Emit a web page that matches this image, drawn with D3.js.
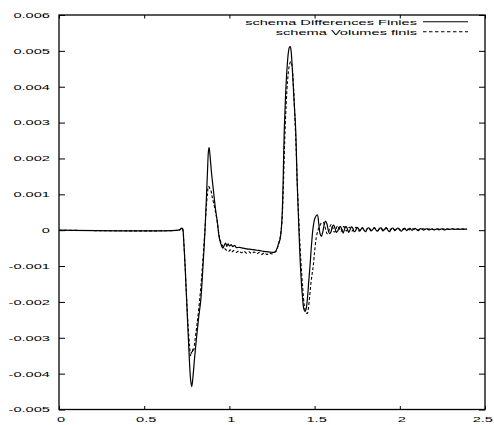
<!DOCTYPE html>
<html>
<head>
<meta charset="utf-8">
<script src="https://cdn.jsdelivr.net/npm/d3@7"></script>
<style>
  html, body { margin: 0; padding: 0; background: #fff; }
  svg { display: block; }
  text { font-family: "Liberation Sans", Arial, Helvetica, sans-serif; fill: #000; }
</style>
</head>
<body>
<svg id="chart" width="494" height="425"></svg>
<script>
// ---- Data ----
const xTicks = [0, 0.5, 1, 1.5, 2, 2.5];
const xTickLabels = ["0", "0.5", "1", "1.5", "2", "2.5"];
const yTicks = [-0.005, -0.004, -0.003, -0.002, -0.001, 0, 0.001, 0.002, 0.003, 0.004, 0.005, 0.006];
const yTickLabels = ["-0.005", "-0.004", "-0.003", "-0.002", "-0.001", "0", "0.001", "0.002", "0.003", "0.004", "0.005", "0.006"];
const seriesNames = ["schema Differences Finies", "schema Volumes finis"];

// Series 1: schema Differences Finies (solid)
const dfX = [0, 0.70, 0.712, 0.72, 0.726, 0.732, 0.74, 0.749, 0.758, 0.766, 0.773, 0.779, 0.786, 0.795, 0.805, 0.818, 0.832, 0.845, 0.857, 0.865, 0.872, 0.877, 0.881, 0.886, 0.895, 0.906, 0.918, 0.93, 0.94, 0.948, 0.955, 0.962, 0.970, 0.978, 0.985, 0.992, 1.0, 1.01, 1.02, 1.03, 1.04, 1.06, 1.08, 1.10, 1.12, 1.14, 1.16, 1.18, 1.20, 1.22, 1.24, 1.258, 1.27, 1.28, 1.29, 1.297, 1.304, 1.31, 1.316, 1.322, 1.33, 1.338, 1.346, 1.352, 1.357, 1.362, 1.368, 1.375, 1.382, 1.389, 1.398, 1.408, 1.418, 1.428, 1.437, 1.444, 1.45, 1.458, 1.466, 1.473, 1.482, 1.492, 1.503, 1.516, 1.524, 1.532, 1.54, 1.548, 1.556, 1.564, 1.572, 1.58, 1.588, 1.596, 1.604, 1.612, 1.62, 1.628, 1.636, 1.644, 1.652, 1.660, 1.668, 1.676, 1.684, 1.692, 1.700, 1.708, 1.716, 1.724, 1.732, 1.740, 1.748, 1.756, 1.764, 1.772, 1.780, 1.790, 1.800, 1.810, 1.820, 1.830, 1.840, 1.850, 1.860, 1.870, 1.880, 1.890, 1.900, 1.910, 1.920, 1.930, 1.940, 1.950, 1.960, 1.970, 1.980, 1.990, 2.000, 2.010, 2.020, 2.030, 2.040, 2.050, 2.060, 2.070, 2.080, 2.090, 2.100, 2.110, 2.120, 2.130, 2.140, 2.150, 2.160, 2.170, 2.180, 2.190, 2.200, 2.210, 2.220, 2.230, 2.240, 2.250, 2.260, 2.270, 2.280, 2.290, 2.300, 2.310, 2.320, 2.330, 2.340, 2.350, 2.360, 2.370, 2.380, 2.395];
const dfY = [0, 0, 0.00002, 0.00006, 0.00003, -0.0003, -0.0010, -0.00195, -0.0029, -0.0037, -0.0042, -0.00436, -0.0041, -0.0036, -0.0031, -0.0025, -0.00195, -0.0010, 0, 0.0009, 0.0017, 0.0022, 0.0023, 0.0021, 0.0016, 0.00112, 0.0006, 0.0002, -0.0002, -0.00035, -0.00045, -0.0005, -0.00042, -0.00036, -0.00045, -0.00038, -0.00044, -0.0004, -0.00046, -0.00042, -0.00048, -0.00048, -0.0005, -0.00052, -0.00053, -0.00054, -0.00056, -0.00057, -0.00059, -0.0006, -0.00061, -0.00062, -0.0006, -0.0005, -0.00035, -0.00026, 0.0000, 0.00048, 0.0015, 0.0028, 0.0038, 0.0045, 0.00495, 0.0051, 0.00512, 0.005, 0.0046, 0.0040, 0.0034, 0.0028, 0.0013, 0.0, -0.0011, -0.0018, -0.0022, -0.00227, -0.0022, -0.0019, -0.0014, -0.0010, -0.0004, 0.0001, 0.00035, 0.00043, 0.0002, -0.0001, -0.00017, -0.00005, 0.00015, 0.00025, 0.00018, 0.0, -0.0001, -0.00005, 0.0001, 0.00014, 0.00005, -0.00006, -0.00002, 0.00008, 0.00010, 0.00002, -0.00008, 0.00003, 0.00011, 0.00004, -0.00006, 0.00001, 0.00009, 0.00006, -0.00004, -0.00002, 0.00008, 0.00005, -0.00003, 0.00002, 0.00007, 0.00000, -0.00004, 0.00005, 0.00006, -0.00002, 0.00001, 0.00007, 0.00001, -0.00003, 0.00005, 0.00006, -0.00002, 0.00002, 0.00007, 0.00000, -0.00004, 0.00004, 0.00006, -0.00001, 0.00003, 0.00006, 0.00000, -0.00003, 0.00004, 0.00005, -0.00001, 0.00003, 0.00005, 0.00000, 0.00002, 0.00005, 0.00001, -0.00001, 0.00004, 0.00003, 0.00000, 0.00003, 0.00004, 0.00001, 0.00002, 0.00004, 0.00001, 0.00002, 0.00004, 0.00001, 0.00003, 0.00004, 0.00001, 0.00002, 0.00004, 0.00002, 0.00003, 0.00004, 0.00002, 0.00003, 0.00004, 0.00002, 0.00003, 0.00004, 0.00003, 0.00003];

// Series 2: schema Volumes finis (dashed)
const vfX = [0, 0.70, 0.712, 0.72, 0.726, 0.732, 0.74, 0.749, 0.758, 0.766, 0.772, 0.777, 0.781, 0.786, 0.79, 0.797, 0.808, 0.82, 0.832, 0.845, 0.856, 0.864, 0.871, 0.877, 0.882, 0.887, 0.892, 0.898, 0.91, 0.925, 0.935, 0.945, 0.955, 0.965, 0.974, 0.985, 0.995, 1.005, 1.013, 1.025, 1.04, 1.055, 1.07, 1.085, 1.10, 1.115, 1.13, 1.145, 1.16, 1.175, 1.19, 1.205, 1.22, 1.235, 1.25, 1.262, 1.272, 1.285, 1.298, 1.308, 1.316, 1.324, 1.333, 1.342, 1.352, 1.36, 1.367, 1.375, 1.383, 1.392, 1.40, 1.41, 1.42, 1.43, 1.44, 1.45, 1.457, 1.463, 1.47, 1.478, 1.486, 1.492, 1.50, 1.51, 1.52, 1.53, 1.54, 1.55, 1.558, 1.566, 1.574, 1.582, 1.59, 1.598, 1.606, 1.614, 1.622, 1.630, 1.638, 1.646, 1.654, 1.662, 1.670, 1.678, 1.686, 1.694, 1.702, 1.710, 1.720, 1.730, 1.740, 1.750, 1.760, 1.770, 1.780, 1.790, 1.800, 1.810, 1.820, 1.830, 1.840, 1.850, 1.860, 1.870, 1.880, 1.890, 1.900, 1.910, 1.920, 1.930, 1.940, 1.950, 1.960, 1.970, 1.980, 1.990, 2.000, 2.015, 2.030, 2.045, 2.060, 2.075, 2.090, 2.105, 2.120, 2.135, 2.150, 2.165, 2.180, 2.195, 2.210, 2.225, 2.240, 2.255, 2.270, 2.285, 2.300, 2.315, 2.330, 2.345, 2.360, 2.375, 2.395];
const vfY = [0, 0, 0.00002, 0.00007, 0.00003, -0.0003, -0.0010, -0.0019, -0.0027, -0.0032, -0.0035, -0.0034, -0.00345, -0.0033, -0.00335, -0.0031, -0.0027, -0.0022, -0.0016, -0.0008, 0.0, 0.0006, 0.0010, 0.00122, 0.0012, 0.00113, 0.0011, 0.00095, 0.0007, 0.00035, 0.0, -0.00026, -0.0004, -0.00047, -0.00052, -0.00057, -0.00059, -0.00055, -0.00061, -0.00057, -0.00062, -0.00058, -0.00063, -0.00059, -0.00064, -0.0006, -0.00065, -0.00061, -0.00066, -0.00062, -0.00067, -0.00063, -0.00068, -0.00064, -0.00066, -0.00062, -0.0006, -0.00045, -0.0002, 0.0002, 0.0011, 0.0024, 0.0035, 0.0042, 0.0046, 0.0047, 0.0046, 0.0041, 0.0033, 0.0022, 0.0011, 0.0000, -0.0009, -0.0016, -0.0021, -0.0023, -0.00232, -0.0022, -0.0019, -0.0015, -0.0012, -0.0010, -0.0006, -0.0002, 0.0, 0.00012, 0.0002, 0.00022, 0.00015, 0.0, -0.0001, -0.00005, 0.0001, 0.00016, 0.00008, -0.00005, -0.00003, 0.00009, 0.00012, 0.00004, -0.00004, 0.00002, 0.00010, 0.00007, -0.00002, 0.00001, 0.00008, 0.00006, -0.00002, 0.00003, 0.00008, 0.00003, -0.00002, 0.00004, 0.00007, 0.00001, -0.00001, 0.00005, 0.00006, 0.00000, 0.00002, 0.00006, 0.00003, -0.00001, 0.00003, 0.00006, 0.00001, 0.00001, 0.00005, 0.00004, 0.00000, 0.00003, 0.00005, 0.00001, 0.00002, 0.00005, 0.00002, 0.00001, 0.00004, 0.00003, 0.00001, 0.00004, 0.00003, 0.00001, 0.00003, 0.00004, 0.00002, 0.00003, 0.00004, 0.00002, 0.00003, 0.00003, 0.00002, 0.00003, 0.00004, 0.00002, 0.00003, 0.00003, 0.00002, 0.00003, 0.00003, 0.00002, 0.00003];

// ---- Layout ----
const pL = 59, pR = 485, pT = 15, pB = 409.5;
const SX = 1.95; // horizontal stretch of the text in the reference

const svg = d3.select("#chart");
const x = d3.scaleLinear().domain([0, 2.5]).range([pL, pR]);
const y = d3.scaleLinear().domain([-0.005, 0.006]).range([pB, pT]);

// ticks (all inward, mirrored)
svg.append("g").attr("transform", `translate(${pL},0)`)
  .call(d3.axisLeft(y).tickValues(yTicks).tickSize(-6).tickFormat(""))
  .call(g => g.select(".domain").remove());
svg.append("g").attr("transform", `translate(${pR},0)`)
  .call(d3.axisRight(y).tickValues(yTicks).tickSize(-6).tickFormat(""))
  .call(g => g.select(".domain").remove());
svg.append("g").attr("transform", `translate(0,${pB})`)
  .call(d3.axisBottom(x).tickValues(xTicks).tickSize(-3.5).tickFormat(""))
  .call(g => g.select(".domain").remove());
svg.append("g").attr("transform", `translate(0,${pT})`)
  .call(d3.axisTop(x).tickValues(xTicks).tickSize(-3.5).tickFormat(""))
  .call(g => g.select(".domain").remove());
svg.selectAll(".tick line").attr("stroke", "#000").attr("stroke-width", 1);

// border
svg.append("rect")
  .attr("x", pL).attr("y", pT)
  .attr("width", pR - pL).attr("height", pB - pT)
  .attr("fill", "none").attr("stroke", "#000").attr("stroke-width", 1.3);

// tick labels
svg.append("g").selectAll("text").data(yTicks).join("text")
  .attr("transform", d => `translate(50,${y(d)}) scale(${SX},1)`)
  .attr("text-anchor", "end").attr("dominant-baseline", "central")
  .attr("font-size", 7.5)
  .text((d, i) => yTickLabels[i]);
// the last label would run past the page edge; keep it fully inside
svg.append("g").selectAll("text").data(xTicks).join("text")
  .attr("transform", (d, i) => i === xTicks.length - 1
      ? `translate(493,${pB + 10}) scale(${SX},1)`
      : `translate(${x(d) + 2},${pB + 10}) scale(${SX},1)`)
  .attr("text-anchor", (d, i) => i === xTicks.length - 1 ? "end" : "middle")
  .attr("dominant-baseline", "central")
  .attr("font-size", 7.5)
  .text((d, i) => xTickLabels[i]);

// lines
const line = d3.line().x(d => x(d[0])).y(d => y(d[1])).curve(d3.curveCatmullRom.alpha(0.5));
const vfData = d3.range(Math.min(vfX.length, vfY.length)).map(i => [vfX[i], vfY[i]]);
const dfData = d3.range(Math.min(dfX.length, dfY.length)).map(i => [dfX[i], dfY[i]]);
svg.append("path").datum(vfData).attr("d", line)
  .attr("fill", "none").attr("stroke", "#000").attr("stroke-width", 1.1)
  .attr("stroke-dasharray", "3,2");
svg.append("path").datum(dfData).attr("d", line)
  .attr("fill", "none").attr("stroke", "#000").attr("stroke-width", 1.2);

// legend
const legendRows = [
  { name: seriesNames[0], dash: null, yy: 21.7 },
  { name: seriesNames[1], dash: "3.5,2.5", yy: 31.7 }
];
const lg = svg.append("g");
legendRows.forEach(r => {
  lg.append("text")
    .attr("transform", `translate(417,${r.yy}) scale(${SX},1)`)
    .attr("text-anchor", "end").attr("dominant-baseline", "central")
    .attr("font-size", 7.5)
    .text(r.name);
  lg.append("line")
    .attr("x1", 423).attr("x2", 468).attr("y1", r.yy).attr("y2", r.yy)
    .attr("stroke", "#000").attr("stroke-width", 1.1)
    .attr("stroke-dasharray", r.dash);
});
</script>
</body>
</html>
